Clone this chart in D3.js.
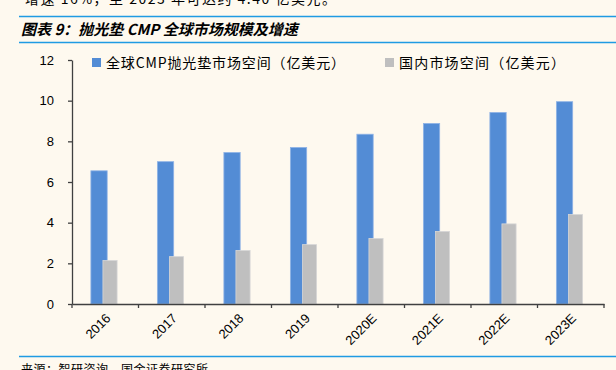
<!DOCTYPE html>
<html>
<head>
<meta charset="utf-8">
<script src="https://cdn.jsdelivr.net/npm/d3@7"></script>
<style>
  html, body { margin: 0; padding: 0; background: #fef9ef; }
  svg { display: block; }
  .axis text { font-family: "Liberation Sans", Arial, sans-serif; font-size: 13px; fill: #000; }
  .axis path, .axis line { stroke: #404040; stroke-width: 1.3; }
</style>
</head>
<body>
<svg id="chart" width="616" height="370"></svg>
<script>
// data
const years = ["2016", "2017", "2018", "2019", "2020E", "2021E", "2022E", "2023E"];
const globalMarket = [6.55, 7.0, 7.45, 7.7, 8.35, 8.88, 9.42, 9.95];
const chinaMarket = [2.14, 2.33, 2.63, 2.92, 3.22, 3.57, 3.94, 4.40];
const yTicks = [0, 2, 4, 6, 8, 10, 12];
const seriesNames = ["全球CMP抛光垫市场空间（亿美元）", "国内市场空间（亿美元）"];
const seriesColors = ["#538cd5", "#bfbfbf"];

const svg = d3.select("#chart");
const cjk = '"Noto Sans CJK SC", "Noto Sans", sans-serif';

// cut-off text from the page above
svg.append("text")
    .attr("x", 25).attr("y", 4)
    .attr("font-family", cjk).attr("font-size", 14)
    .attr("letter-spacing", 1.5)
    .text("增速 16%，至 2023 年可达约 4.40 亿美元。");

// header lines + title
svg.append("line").attr("x1", 19).attr("x2", 616).attr("y1", 16.5).attr("y2", 16.5)
    .attr("stroke", "#1f9be3").attr("stroke-width", 1.5);
svg.append("line").attr("x1", 19).attr("x2", 616).attr("y1", 42.5).attr("y2", 42.5)
    .attr("stroke", "#1f9be3").attr("stroke-width", 1.5);
svg.append("text")
    .attr("x", 21).attr("y", 35)
    .attr("font-family", cjk).attr("font-size", 15)
    .attr("font-weight", "bold").attr("font-style", "italic")
    .text("图表 9：抛光垫 CMP 全球市场规模及增速");

// footer
svg.append("line").attr("x1", 19).attr("x2", 616).attr("y1", 356.5).attr("y2", 356.5)
    .attr("stroke", "#1f9be3").attr("stroke-width", 1.5);
svg.append("text")
    .attr("x", 21).attr("y", 374)
    .attr("font-family", cjk).attr("font-size", 12)
    .attr("letter-spacing", 0.5)
    .text("来源：智研咨询，国金证券研究所");

// scales
const x = d3.scaleBand().domain(years).range([72, 604]).padding(0);
const y = d3.scaleLinear().domain([0, 12]).range([304, 60]);

const step = x.step();
const blueOff = step * 0.284, blueW = step * 0.245;
const grayOff = step * 0.465, grayW = step * 0.213;

// bars
svg.append("g").selectAll("rect")
    .data(years)
    .join("rect")
    .attr("x", (d) => x(d) + blueOff)
    .attr("y", (d, i) => y(globalMarket[i]))
    .attr("width", blueW)
    .attr("height", (d, i) => y(0) - y(globalMarket[i]))
    .attr("fill", seriesColors[0])
    .attr("stroke", "#8fb3e6").attr("stroke-width", 0.8);

svg.append("g").selectAll("rect")
    .data(years)
    .join("rect")
    .attr("x", (d) => x(d) + grayOff)
    .attr("y", (d, i) => y(chinaMarket[i]))
    .attr("width", grayW)
    .attr("height", (d, i) => y(0) - y(chinaMarket[i]))
    .attr("fill", seriesColors[1])
    .attr("stroke", "#d6d6d6").attr("stroke-width", 0.8);

// y axis
svg.append("g")
    .attr("class", "axis")
    .attr("transform", "translate(72,0)")
    .call(d3.axisLeft(y).tickValues(yTicks).tickSize(4).tickSizeOuter(0).tickPadding(14));

// x axis: line + labels, tick marks at category boundaries
const xAxis = svg.append("g")
    .attr("class", "axis")
    .attr("transform", "translate(0,304)")
    .call(d3.axisBottom(x).tickSize(0).tickSizeOuter(0));

xAxis.selectAll(".tick text")
    .attr("text-anchor", "end")
    .attr("dy", 0)
    .attr("transform", "translate(4,13) rotate(-45)");

xAxis.selectAll(".bound")
    .data(years.concat(["end"]))
    .join("line")
    .attr("class", "bound")
    .attr("x1", (d) => d === "end" ? x.range()[1] : x(d))
    .attr("x2", (d) => d === "end" ? x.range()[1] : x(d))
    .attr("y1", 0).attr("y2", 4);

// legend
const legendX = [92, 385];
const legendLen = [239, 166];
seriesNames.forEach((name, i) => {
    const row = svg.append("g").attr("transform", `translate(${legendX[i]}, 58)`);
    row.append("rect")
        .attr("width", 9).attr("height", 9)
        .attr("fill", seriesColors[i]);
    row.append("text")
        .attr("x", 14).attr("y", 9.5)
        .attr("font-family", cjk).attr("font-size", 14)
        .attr("textLength", legendLen[i])
        .attr("lengthAdjust", "spacing")
        .text(name);
});
</script>
</body>
</html>
